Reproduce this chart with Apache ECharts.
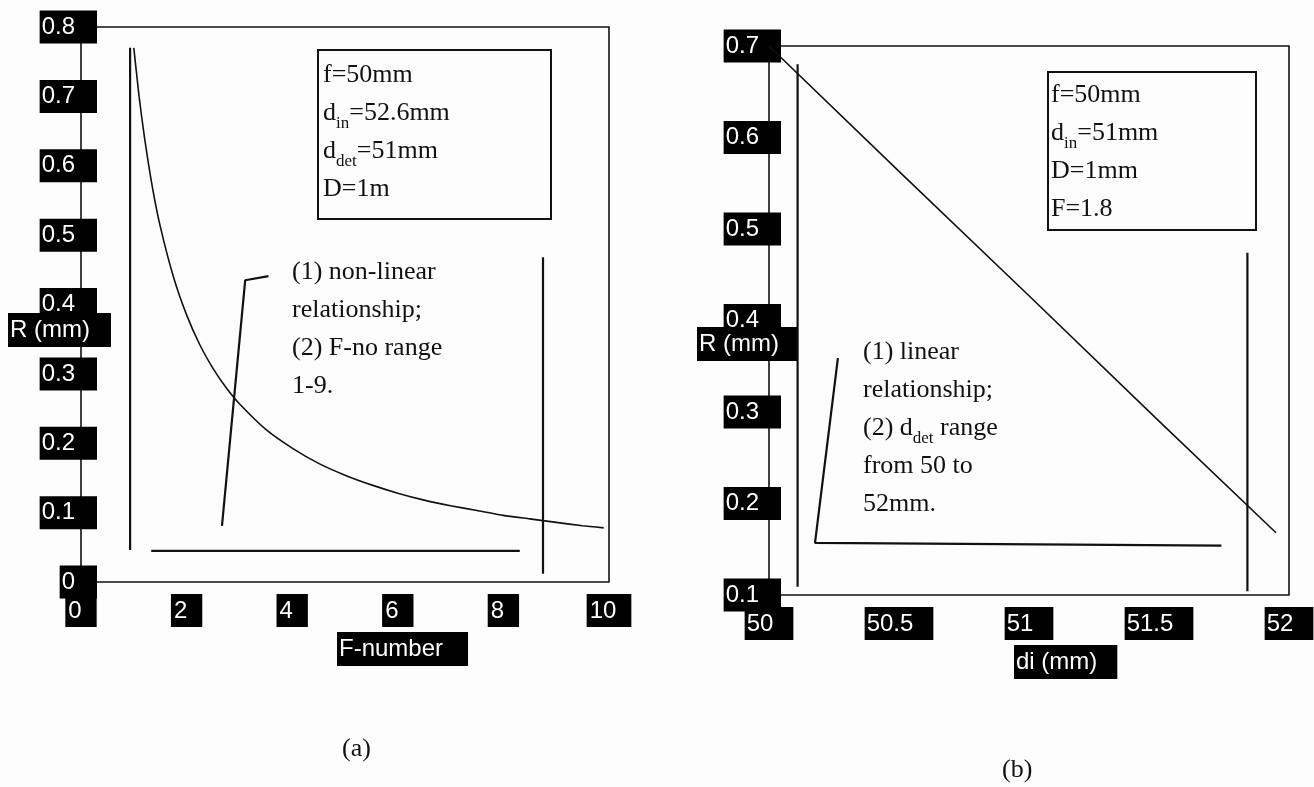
<!DOCTYPE html>
<html>

<head>
  <meta charset="utf-8">
  <title>R against F-number and di</title>
  <script src="https://cdn.jsdelivr.net/npm/echarts@6/dist/echarts.min.js"></script>
</head>

<body style="margin:0;background:#fdfdfd">
  <div id="main" style="width:1314px;height:787px"></div>
  <script type="text/javascript">
    var myChart = echarts.init(document.getElementById('main'));

    // (a) R (mm) against F-number
    var fNumber = [1, 1.1, 1.2, 1.35, 1.5, 1.75, 2, 2.25, 2.5, 2.75, 3, 3.5, 4, 4.5, 5, 5.5, 6, 6.5, 7, 7.5, 8, 8.5, 9, 9.5, 9.9];
    var radiusA = [0.77, 0.70, 0.642, 0.57, 0.513, 0.44, 0.385, 0.342, 0.308, 0.28, 0.257, 0.22, 0.193, 0.171, 0.154, 0.14, 0.128, 0.118, 0.11, 0.103, 0.096, 0.091, 0.086, 0.081, 0.078];
    var xRangeA = [0, 10, 2];
    var yRangeA = [0, 0.8, 0.1];

    // (b) R (mm) against di (mm)
    var detDist = [50, 50.5, 51, 51.5, 51.95];
    var radiusB = [0.70, 0.563, 0.427, 0.29, 0.168];
    var xRangeB = [50, 52, 0.5];
    var yRangeB = [0.1, 0.7, 0.1];

    // loose pen strokes drawn over the plots (brackets, guide lines)
    var strokesA = [
      [[0.93, 0.77], [0.93, 0.046]],
      [[1.33, 0.045], [8.31, 0.045]],
      [[8.75, 0.468], [8.75, 0.012]],
      [[2.67, 0.081], [3.11, 0.435], [3.55, 0.441]]
    ];
    var strokesB = [
      [[50.11, 0.68], [50.11, 0.109]],
      [[50.265, 0.359], [50.177, 0.157], [51.74, 0.154]],
      [[51.84, 0.474], [51.84, 0.104]]
    ];

    var sans = '"Liberation Sans", Arial, sans-serif';
    var serif = '"Liberation Serif", "Times New Roman", serif';

    function tagLabel(margin, padding) {
      return {
        color: '#fff',
        backgroundColor: '#000',
        fontFamily: sans,
        fontSize: 24,
        padding: padding,
        margin: margin
      };
    }

    function valueAxis(gridIndex, range, label) {
      return {
        type: 'value',
        gridIndex: gridIndex,
        min: range[0],
        max: range[1],
        interval: range[2],
        axisLine: { show: false },
        axisTick: { show: false },
        splitLine: { show: false },
        axisLabel: label
      };
    }

    function strokeSeries(strokes, idx) {
      return strokes.map(function (s) {
        return {
          type: 'line',
          xAxisIndex: idx,
          yAxisIndex: idx,
          data: s,
          symbol: 'none',
          silent: true,
          lineStyle: { color: '#111', width: 2.2 }
        };
      });
    }

    function tag(text, x, y, padding) {
      return {
        type: 'text',
        x: x,
        y: y,
        z: 100,
        style: {
          text: text,
          fill: '#fff',
          backgroundColor: '#000',
          padding: padding,
          font: '24px ' + sans
        }
      };
    }

    var noteRich = {
      n: { fontSize: 26, fontFamily: serif, lineHeight: 38, color: '#111' },
      s: { fontSize: 17, fontFamily: serif, lineHeight: 22, color: '#111', verticalAlign: 'bottom' }
    };

    function note(text, x, y) {
      return {
        type: 'text',
        x: x,
        y: y,
        z: 100,
        style: { text: text, rich: noteRich, fill: '#111' }
      };
    }

    function frameBox(x, y, w, h) {
      return {
        type: 'rect',
        z: 90,
        shape: { x: x, y: y, width: w, height: h },
        style: { fill: 'none', stroke: '#111', lineWidth: 2 }
      };
    }

    var option = {
      backgroundColor: '#fdfdfd',
      animation: false,
      grid: [
        { left: 81, top: 27, width: 528, height: 555, show: true, borderColor: '#111', borderWidth: 1.6, outerBoundsMode: 'none' },
        { left: 769, top: 46, width: 520, height: 549, show: true, borderColor: '#111', borderWidth: 1.6, outerBoundsMode: 'none' }
      ],
      xAxis: [
        valueAxis(0, xRangeA, tagLabel(12, [5, 15, 4, 3])),
        valueAxis(1, xRangeB, tagLabel(12, [5, 20, 4, 2]))
      ],
      yAxis: [
        valueAxis(0, yRangeA, tagLabel(-16, [5, 22, 4, 2])),
        valueAxis(1, yRangeB, tagLabel(-12, [5, 22, 4, 2]))
      ],
      series: [
        {
          type: 'line',
          xAxisIndex: 0,
          yAxisIndex: 0,
          data: fNumber.map(function (f, i) { return [f, radiusA[i]]; }),
          smooth: 0.2,
          symbol: 'none',
          lineStyle: { color: '#111', width: 1.6 }
        },
        {
          type: 'line',
          xAxisIndex: 1,
          yAxisIndex: 1,
          data: detDist.map(function (d, i) { return [d, radiusB[i]]; }),
          symbol: 'none',
          lineStyle: { color: '#111', width: 1.6 }
        }
      ].concat(strokeSeries(strokesA, 0), strokeSeries(strokesB, 1)),
      graphic: [
        tag('R (mm)', 8, 313, [5, 21, 5, 2]),
        tag('F-number', 337, 632, [5, 25, 5, 2]),
        tag('R (mm)', 697, 327, [5, 18, 5, 2]),
        tag('di (mm)', 1014, 645, [5, 20, 5, 2]),
        frameBox(318, 50, 233, 169),
        note('{n|f=50mm}\n{n|d}{s|in}{n|=52.6mm}\n{n|d}{s|det}{n|=51mm}\n{n|D=1m}', 323, 56),
        note('{n|(1) non-linear}\n{n|relationship;}\n{n|(2) F-no range}\n{n|1-9.}', 292, 253),
        frameBox(1048, 72, 208, 158),
        note('{n|f=50mm}\n{n|d}{s|in}{n|=51mm}\n{n|D=1mm}\n{n|F=1.8}', 1051, 76),
        note('{n|(1) linear}\n{n|relationship;}\n{n|(2) d}{s|det}{n| range}\n{n|from 50 to}\n{n|52mm.}', 863, 333),
        note('{n|(a)}', 342, 730),
        note('{n|(b)}', 1002, 751)
      ]
    };

    myChart.setOption(option);
  </script>
</body>

</html>
